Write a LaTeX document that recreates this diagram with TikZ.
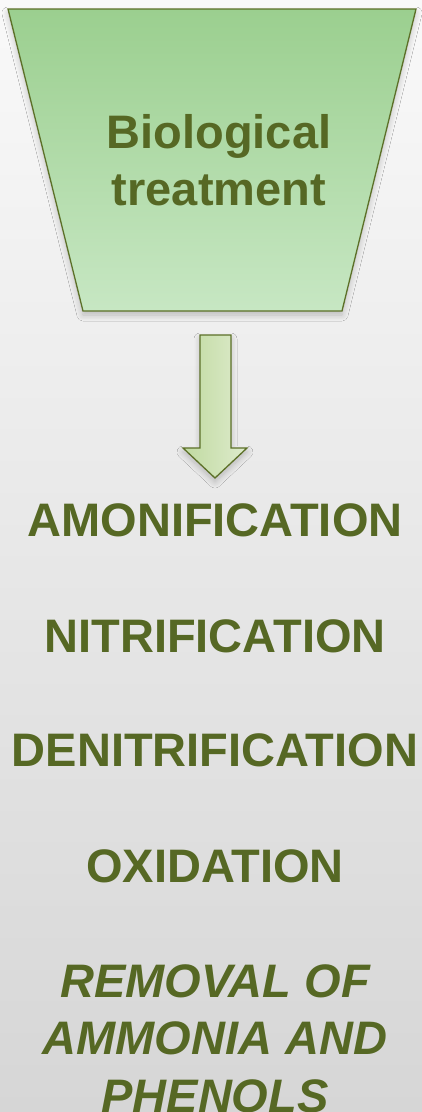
\documentclass[tikz,border=0pt]{standalone}
\usepackage{fontspec}
\setmainfont{Liberation Sans}
\usepackage{tikz}
\usetikzlibrary{positioning, calc, shadows.blur}

\definecolor{olivetext}{RGB}{86,104,36}
\definecolor{oliveline}{RGB}{92,112,40}
\definecolor{funneltop}{RGB}{155,207,143}
\definecolor{funnelbot}{RGB}{199,231,195}
\definecolor{arrowleft}{RGB}{192,218,160}
\definecolor{arrowright}{RGB}{222,235,205}
\definecolor{bgtop}{RGB}{249,249,249}
\definecolor{bgbot}{RGB}{214,214,214}

\tikzset{
  stepword/.style={font=\fontsize{47}{56}\selectfont\bfseries, text=olivetext, inner sep=0, anchor=base},
  softshadow/.style={blur shadow={shadow xshift=0pt, shadow yshift=-4pt, shadow blur radius=6pt, shadow blur steps=10, shadow opacity=22}}
}

\begin{document}
\begin{tikzpicture}[x=1pt, y=-1pt]
  % background
  \useasboundingbox (0,0) rectangle (422,1112);
  \shade[top color=bgtop, bottom color=bgbot] (0,0) rectangle (422,1112);
  % funnel
  \coordinate (FTL) at (8,9);
  \coordinate (FTR) at (416,9);
  \coordinate (FBR) at (342,311);
  \coordinate (FBL) at (83,311);
  \path[softshadow, draw=oliveline, line width=1.3pt, top color=funneltop, bottom color=funnelbot]
    (FTL) -- (FTR) -- (FBR) -- (FBL) -- cycle;
  % base anchor sits on the last line
  \node[stepword, align=center, font=\fontsize{47}{57}\selectfont\bfseries] (bio) at (219,205) {Biological\\treatment};
  % block arrow
  \path[softshadow, draw=oliveline, line width=1.3pt, left color=arrowleft, right color=arrowright]
    (200,335) -- (231,335) -- (231,448) -- (247,448) -- (215,478) -- (183,448) -- (200,448) -- cycle;
  % steps
  \foreach \name/\word/\y in {amo/AMONIFICATION/536, nit/NITRIFICATION/652, den/DENITRIFICATION/766, oxi/OXIDATION/882}{
    \node[stepword] (\name) at (215,\y) {\word};
  }
  \node[stepword, align=center, font=\fontsize{47}{57.5}\selectfont\bfseries\itshape] (rem) at (215,1112) {REMOVAL OF\\AMMONIA AND\\PHENOLS};
\end{tikzpicture}
\end{document}
